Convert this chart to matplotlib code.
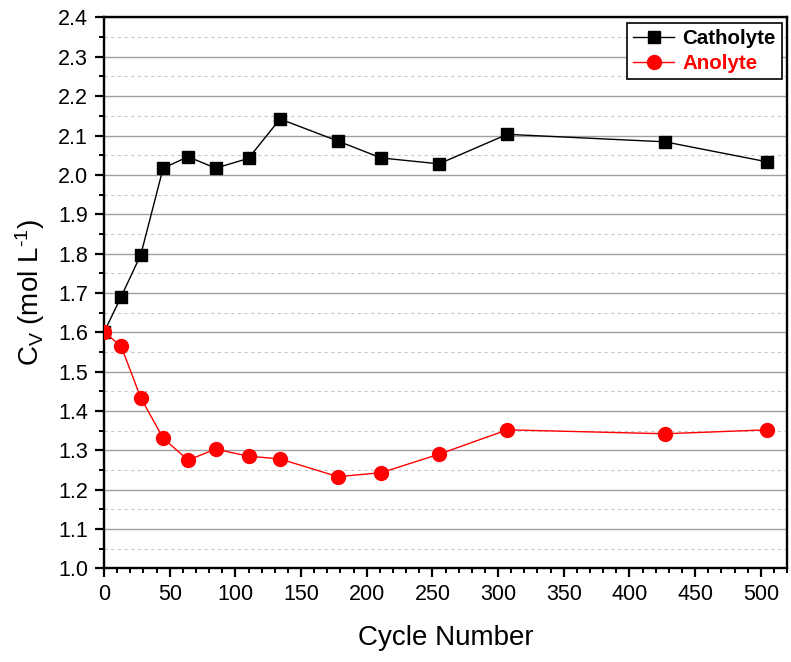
import matplotlib
matplotlib.use("Agg")
import matplotlib.pyplot as plt
from matplotlib.ticker import MultipleLocator

plt.rcParams['font.family'] = ['Liberation Sans', 'DejaVu Sans']
plt.rcParams['mathtext.fontset'] = 'custom'
plt.rcParams['mathtext.rm'] = 'Liberation Sans'
plt.rcParams['mathtext.it'] = 'Liberation Sans'

cycles = [0, 13, 28, 45, 64, 85, 110, 134, 178, 211, 255, 307, 427, 505]
catholyte = [1.60, 1.69, 1.797, 2.017, 2.046, 2.017, 2.042, 2.142, 2.086, 2.043, 2.028, 2.103, 2.084, 2.033]
anolyte = [1.60, 1.565, 1.433, 1.331, 1.275, 1.303, 1.285, 1.278, 1.233, 1.243, 1.290, 1.352, 1.342, 1.352]

fig = plt.figure(figsize=(7.91, 6.62), dpi=100)
ax = fig.add_axes([0.1315, 0.1415, 0.8635, 0.8321])

ax.plot(cycles, catholyte, color='black', lw=1.0, marker='s', ms=8.5, label='Catholyte', zorder=3)
ax.plot(cycles, anolyte, color='red', lw=1.0, marker='o', ms=10, label='Anolyte', zorder=3)

ax.set_xlim(0, 520)
ax.set_ylim(1.0, 2.4)
ax.xaxis.set_major_locator(MultipleLocator(50))
ax.xaxis.set_minor_locator(MultipleLocator(10))
ax.yaxis.set_major_locator(MultipleLocator(0.1))
ax.yaxis.set_minor_locator(MultipleLocator(0.05))
ax.yaxis.set_major_formatter(matplotlib.ticker.FormatStrFormatter('%.1f'))

ax.grid(True, which='major', axis='y', color='#a0a0a0', lw=1.0, ls='-')
ax.grid(True, which='minor', axis='y', color='#c8c8c8', lw=0.8, ls=(0, (3, 3)))
ax.set_axisbelow(True)

for s in ax.spines.values():
    s.set_linewidth(1.7)
ax.tick_params(which='major', direction='out', length=6.5, width=1.6, labelsize=15.5, pad=5)
ax.tick_params(which='minor', direction='out', length=3.6, width=1.4)

ax.set_xlabel('Cycle Number', fontsize=20, labelpad=14)
ax.set_ylabel(r'C$_\mathregular{V}$ (mol L$^{\text{-}\mathregular{1}}$)', fontsize=20, labelpad=8)

leg = ax.legend(loc='upper right', bbox_to_anchor=(1.0, 1.0), fancybox=False, edgecolor='black',
                framealpha=1, prop={'weight': 'bold', 'size': 14.8}, handlelength=2.0,
                borderpad=0.3, labelspacing=0.3, handletextpad=0.4, borderaxespad=0.25)
leg.get_frame().set_linewidth(1.2)
for t, c in zip(leg.get_texts(), ['black', 'red']):
    t.set_color(c)

fig.savefig('out.png', dpi=100)
